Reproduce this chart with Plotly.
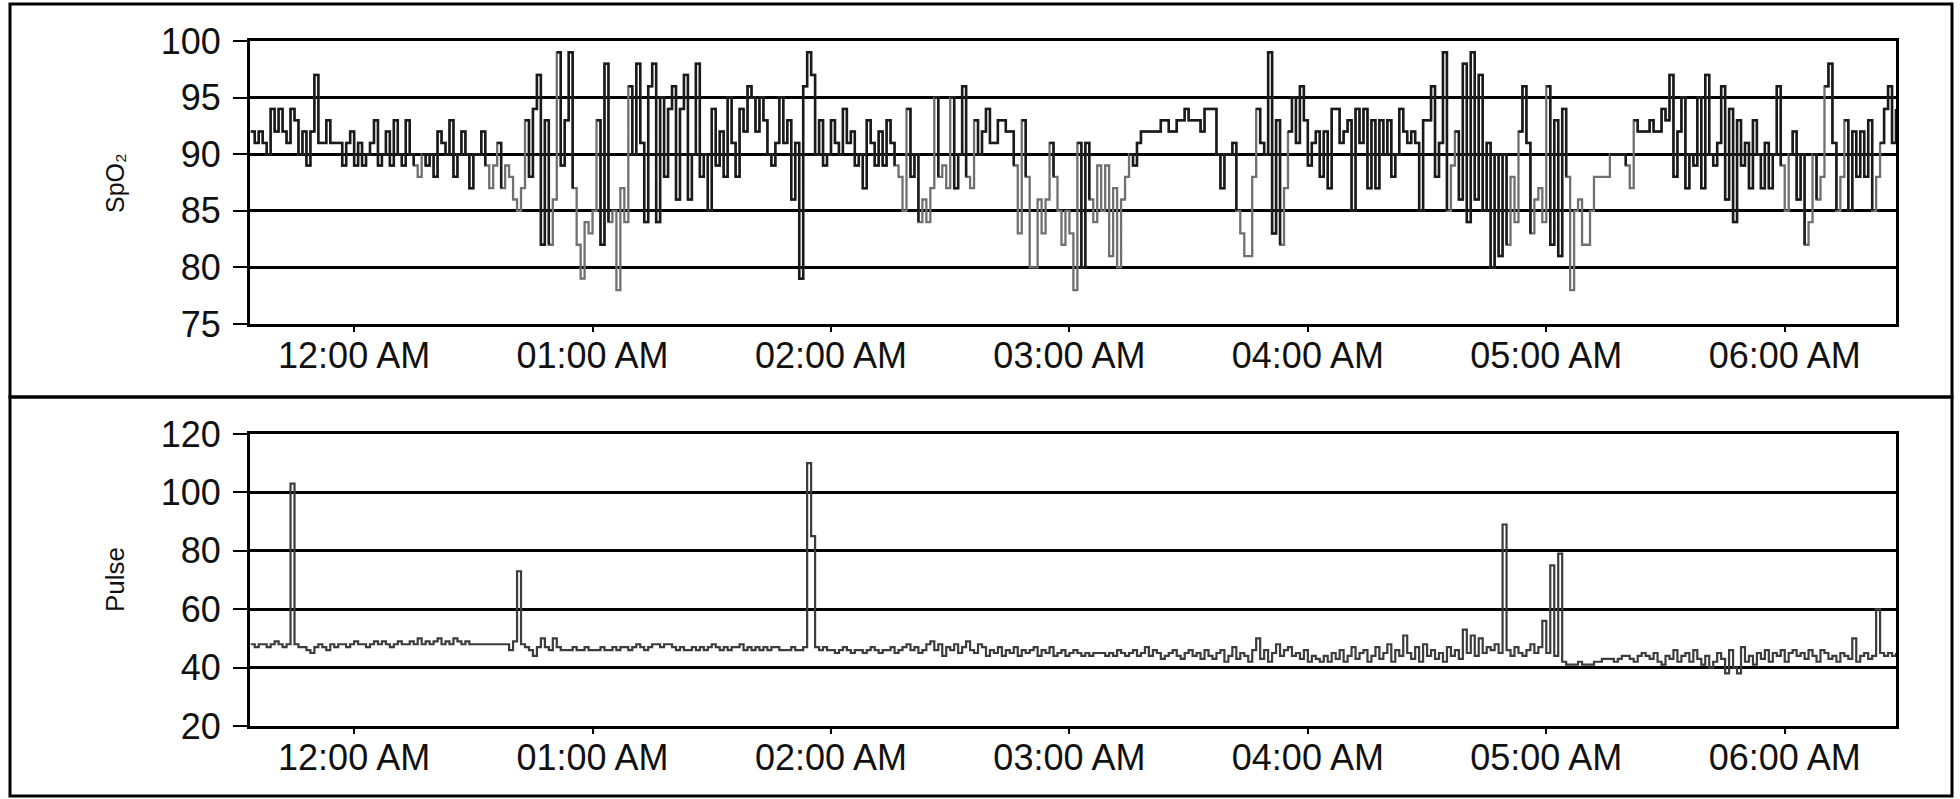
import plotly.graph_objects as go
import pandas as pd

# ---------------- data (1-minute samples starting 23:34) ----------------
start_time = "2020-01-01 23:34"

spo2_seg1 = [92, 91, 92, 91, 90, 94, 92, 94, 92, 91,
             94, 93, 90, 92, 89, 92, 97, 91, 91, 93,
             91, 91, 91, 89, 91, 92, 89, 91, 89, 90,
             91, 93, 89, 90, 92, 89, 93, 90, 89, 93,
             90, 89, 88, 90, 89, 90, 88, 92, 91, 90,
             93, 88, 90, 92, 90, 87, 90, 90, 92, 89,
             87, 89, 91, 87, 89, 88, 86, 85, 87, 93,
             88, 94, 97, 82, 93, 82, 86, 99, 89, 93,
             99, 87, 82, 79]
spo2_seg2 = [84, 83, 85, 93, 82, 98, 84, 85, 78, 87,
             84, 96, 90, 98, 91, 84, 96, 98, 84, 95,
             88, 94, 96, 86, 94, 97, 86, 90, 98, 88,
             90, 85, 94, 89, 92, 88, 95, 91, 88, 94,
             92, 96, 95, 92, 95, 93, 90, 89, 91, 95,
             91, 93, 86, 91, 79, 96, 99, 97, 90, 93,
             89, 90, 93, 91, 90, 94, 91, 92, 89, 90,
             87, 93, 91, 89, 92, 89, 93, 91, 89, 88,
             85, 94, 88, 90]
spo2_seg3 = [84, 86, 84, 87, 95, 88, 89, 87, 95, 87,
             90, 96, 88, 87, 93, 90, 92, 94, 91, 91,
             93, 93, 92, 92, 89, 83, 93, 88, 80, 80,
             86, 83, 86, 91, 88, 85, 82, 85, 83, 78,
             91, 80, 91, 86, 84, 89, 85, 89, 81, 87,
             80, 86, 88, 90, 89, 91, 92, 92, 92, 92,
             92, 93, 93, 92, 92, 93, 93, 94, 93, 93,
             93, 92, 94, 94, 94, 90, 87, 90, 90, 91,
             85, 83, 81]
spo2_seg4 = [81, 88, 94, 91, 90, 99, 83, 93, 82, 87,
             92, 95, 91, 96, 93, 89, 91, 92, 88, 92,
             87, 94, 94, 91, 92, 93, 85, 94, 91, 94,
             87, 93, 87, 93, 90, 93, 88, 90, 94, 92,
             91, 92, 91, 85, 93, 93, 96, 88, 91, 99,
             85, 89, 92, 86, 98, 84, 99, 86, 97, 85,
             91, 80, 90, 81, 90, 82, 88, 84, 92, 96,
             91, 83, 86, 87, 84, 96, 82, 93, 81, 94,
             88, 78, 85]
spo2_seg5 = [86, 82, 82, 85, 88, 88, 88, 88, 90, 90,
             90, 90, 89, 87, 93, 92, 92, 92, 93, 92,
             92, 94, 93, 97, 88, 92, 95, 87, 90, 89,
             95, 87, 97, 90, 89, 91, 96, 86, 94, 84,
             93, 89, 91, 87, 93, 90, 87, 91, 87, 90,
             96, 89, 85, 90, 92, 86, 90, 82, 84, 90,
             86, 88, 96, 98, 91, 85, 88, 93, 85, 92,
             88, 92, 88, 93, 85, 88, 91, 94, 96, 91,
             94]

pulse = [48, 47, 48, 48, 47, 48, 49, 48, 47, 48,
         103, 48, 47, 47, 46, 45, 47, 48, 47, 46,
         48, 47, 48, 48, 47, 48, 49, 48, 48, 47,
         48, 49, 48, 49, 48, 47, 48, 49, 48, 48,
         49, 48, 50, 48, 49, 48, 49, 50, 48, 49,
         48, 50, 49, 48, 49, 48, 48, 48, 48, 48,
         48, 48, 48, 48, 48, 46, 49, 73, 48, 47,
         46, 44, 47, 50, 47, 46, 50, 47, 46, 46,
         46, 47, 46, 46, 47, 46, 46, 46, 47, 46,
         46, 47, 46, 47, 47, 46, 47, 48, 47, 46,
         47, 48, 48, 47, 48, 48, 47, 46, 47, 46,
         46, 47, 46, 47, 46, 47, 48, 47, 46, 47,
         46, 47, 47, 48, 46, 47, 46, 47, 46, 47,
         46, 47, 47, 46, 46, 46, 47, 46, 46, 47,
         110, 85, 47, 46, 47, 46, 46, 45, 46, 47,
         46, 45, 46, 46, 45, 46, 47, 46, 45, 46,
         46, 47, 45, 46, 47, 48, 46, 47, 45, 46,
         48, 49, 46, 48, 44, 47, 46, 48, 45, 47,
         49, 46, 45, 48, 47, 44, 46, 45, 47, 44,
         46, 45, 47, 44, 46, 45, 46, 47, 44, 46,
         45, 47, 44, 45, 46, 44, 45, 46, 45, 44,
         45, 44, 45, 45, 45, 44, 45, 44, 46, 45,
         44, 45, 46, 44, 45, 47, 44, 46, 45, 43,
         44, 45, 46, 44, 43, 45, 46, 44, 45, 43,
         46, 44, 43, 45, 46, 42, 44, 47, 43, 45,
         44, 42, 46, 50, 43, 46, 42, 45, 48, 44,
         46, 47, 44, 45, 43, 46, 42, 44, 43, 42,
         44, 42, 45, 43, 46, 42, 44, 47, 43, 45,
         46, 42, 44, 47, 43, 45, 48, 42, 46, 44,
         51, 45, 43, 47, 42, 48, 44, 46, 43, 45,
         42, 47, 44, 46, 43, 53, 45, 51, 44, 50,
         45, 47, 46, 48, 45, 89, 46, 44, 47, 45,
         44, 46, 48, 45, 47, 56, 45, 75, 44, 79,
         42, 41, 41, 41, 42, 41, 41, 41, 42, 42,
         43, 43, 43, 42, 43, 44, 44, 43, 42, 44,
         45, 44, 43, 45, 42, 41, 44, 43, 46, 42,
         44, 45, 42, 46, 43, 41, 44, 40, 42, 45,
         43, 38, 46, 40, 38, 47, 42, 44, 41, 45,
         43, 46, 42, 45, 44, 46, 42, 45, 46, 44,
         45, 43, 46, 44, 42, 46, 45, 43, 44, 42,
         45, 44, 43, 50, 42, 44, 45, 43, 44, 60,
         45, 44, 45, 44, 45]

hour_ticks = ["2020-01-02 00:00", "2020-01-02 01:00", "2020-01-02 02:00",
              "2020-01-02 03:00", "2020-01-02 04:00", "2020-01-02 05:00",
              "2020-01-02 06:00"]
hour_labels = ["12:00 AM", "01:00 AM", "02:00 AM", "03:00 AM",
               "04:00 AM", "05:00 AM", "06:00 AM"]
x_range = ["2020-01-01 23:33:48", "2020-01-02 06:28:00"]

spo2 = spo2_seg1 + spo2_seg2 + spo2_seg3 + spo2_seg4 + spo2_seg5
times = pd.date_range(start_time, periods=len(spo2), freq="1min")
ptimes = pd.date_range(start_time, periods=len(pulse), freq="1min")

# dark overlay for the well-saturated portions
spo2_dark = []
for i, v in enumerate(spo2):
    prev = spo2[i - 1] if i > 0 else v
    spo2_dark.append(v if (v >= 90 or prev >= 90) else None)

# ---------------- figure ----------------
W, H = 1960, 799
FONT = "Liberation Sans, Arial, sans-serif"

fig = go.Figure()
fig.add_trace(go.Scatter(x=times, y=spo2, mode="lines", line_shape="hv",
                         line=dict(color="#707070", width=2.3),
                         xaxis="x", yaxis="y", showlegend=False))
fig.add_trace(go.Scatter(x=times, y=spo2_dark, mode="lines", line_shape="hv",
                         line=dict(color="#1a1a1a", width=2.5), connectgaps=False,
                         xaxis="x", yaxis="y", showlegend=False))
fig.add_trace(go.Scatter(x=ptimes, y=pulse, mode="lines", line_shape="hv",
                         line=dict(color="#3c3c3c", width=2.2),
                         xaxis="x2", yaxis="y2", showlegend=False))

def px_x(p):
    return p / W

def px_y(p):
    return 1 - p / H

xdom = [px_x(250), px_x(1896)]
xaxis_common = dict(
    type="date", range=x_range, tickvals=hour_ticks, ticktext=hour_labels,
    ticks="outside", ticklen=5, tickwidth=2, tickcolor="black",
    showline=True, mirror=True, linewidth=3, linecolor="black",
    showgrid=False, zeroline=False, automargin=False,
    tickfont=dict(family=FONT, size=36, color="#111"),
    ticklabelstandoff=-7, fixedrange=True,
)
yaxis_common = dict(
    ticks="outside", ticklen=14, tickwidth=2, tickcolor="black",
    showline=True, mirror=True, linewidth=3, linecolor="black",
    showgrid=True, gridcolor="black", gridwidth=2.5, zeroline=False,
    automargin=False,
    tickfont=dict(family=FONT, size=36, color="#111"),
    ticklabelstandoff=5, fixedrange=True,
)

fig.update_layout(
    width=W, height=H,
    margin=dict(l=0, r=0, t=0, b=0, autoexpand=False),
    paper_bgcolor="white", plot_bgcolor="white",
    xaxis=dict(domain=xdom, anchor="y", **xaxis_common),
    yaxis=dict(domain=[px_y(324), px_y(41)], range=[75, 100], dtick=5,
               tick0=75, anchor="x", **yaxis_common),
    xaxis2=dict(domain=xdom, anchor="y2", **xaxis_common),
    yaxis2=dict(domain=[px_y(726), px_y(434)], range=[20, 120], dtick=20,
                tick0=20, anchor="x2", **yaxis_common),
    shapes=[
        dict(type="rect", xref="paper", yref="paper",
             x0=px_x(10), x1=px_x(1952), y0=px_y(397), y1=px_y(4),
             line=dict(color="black", width=3)),
        dict(type="rect", xref="paper", yref="paper",
             x0=px_x(10), x1=px_x(1952), y0=px_y(796), y1=px_y(397),
             line=dict(color="black", width=3)),
    ],
    annotations=[
        dict(text="SpO₂", xref="paper", yref="paper", x=px_x(115), y=px_y(183),
             xanchor="center", yanchor="middle",
             textangle=-90, showarrow=False,
             font=dict(family=FONT, size=25, color="#111")),
        dict(text="Pulse", xref="paper", yref="paper", x=px_x(115), y=px_y(580),
             xanchor="center", yanchor="middle",
             textangle=-90, showarrow=False,
             font=dict(family=FONT, size=26, color="#111")),
    ],
)

fig.write_html("out.html",
               config={"displayModeBar": False, "staticPlot": False},
               post_script="document.body.style.margin='0';"
                           "document.body.style.overflow='hidden';")
